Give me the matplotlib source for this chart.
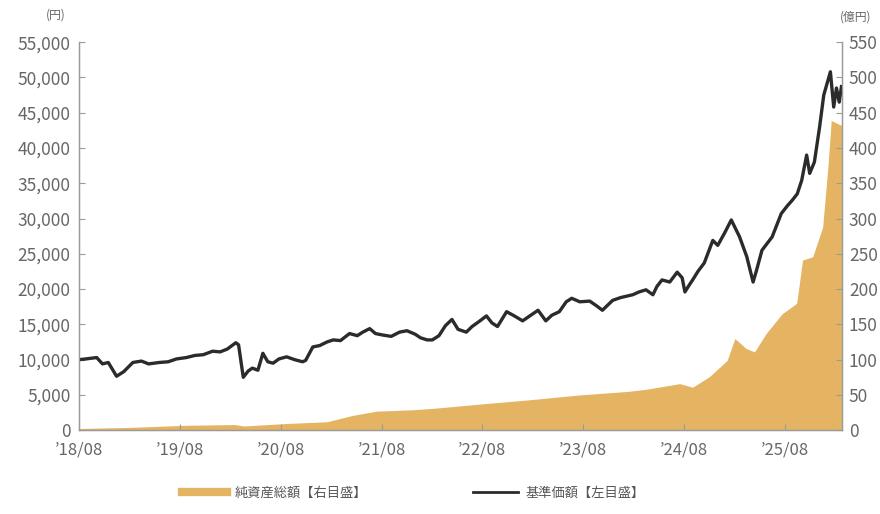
import matplotlib
matplotlib.use('Agg')
import matplotlib.pyplot as plt
from matplotlib.lines import Line2D
import pandas as pd

plt.rcParams['font.family'] = ['Noto Sans CJK JP', 'DejaVu Sans']

# 基準価額（円）
price_dates = ['2018-08-01', '2018-08-25', '2018-10-04', '2018-10-25', '2018-11-15', '2018-12-15',
               '2019-01-10', '2019-02-12', '2019-03-15', '2019-04-10', '2019-05-19', '2019-06-20',
               '2019-07-20', '2019-08-25', '2019-09-25', '2019-10-25', '2019-11-28', '2019-12-25',
               '2020-01-20', '2020-02-20', '2020-03-01', '2020-03-18', '2020-04-05', '2020-04-20',
               '2020-05-10', '2020-05-28', '2020-06-15', '2020-07-04', '2020-07-25', '2020-08-22',
               '2020-09-20', '2020-10-19', '2020-10-30', '2020-11-25', '2020-12-20', '2021-01-15',
               '2021-02-07', '2021-03-05', '2021-04-07', '2021-05-05', '2021-05-25', '2021-06-19',
               '2021-07-10', '2021-08-04', '2021-09-05', '2021-10-05', '2021-11-01', '2021-12-01',
               '2021-12-20', '2022-01-13', '2022-02-01', '2022-02-25', '2022-03-20', '2022-04-13',
               '2022-05-05', '2022-06-04', '2022-06-25', '2022-07-20', '2022-08-16', '2022-09-05',
               '2022-09-25', '2022-10-28', '2022-11-25', '2022-12-25', '2023-01-20', '2023-02-19',
               '2023-03-19', '2023-04-10', '2023-05-07', '2023-06-01', '2023-06-21', '2023-07-20',
               '2023-08-25', '2023-09-20', '2023-10-10', '2023-11-16', '2023-12-15', '2024-01-28',
               '2024-02-20', '2024-03-16', '2024-04-10', '2024-04-25', '2024-05-13', '2024-06-10',
               '2024-07-07', '2024-07-25', '2024-08-04', '2024-08-20', '2024-09-01', '2024-09-20',
               '2024-10-13', '2024-11-13', '2024-12-01', '2024-12-25', '2025-01-19', '2025-02-18',
               '2025-03-16', '2025-04-08', '2025-04-20', '2025-05-10', '2025-06-16', '2025-07-19',
               '2025-08-10', '2025-08-28', '2025-09-15', '2025-10-01', '2025-10-19', '2025-10-30',
               '2025-11-16', '2025-12-05', '2025-12-20', '2026-01-13', '2026-01-25', '2026-02-04',
               '2026-02-14', '2026-02-22']
price_vals = [10000, 10100, 10300, 9400, 9600, 7650,
              8300, 9600, 9800, 9400, 9600, 9700,
              10100, 10300, 10600, 10700, 11200, 11100,
              11500, 12400, 12100, 7500, 8400, 8800,
              8500, 10900, 9700, 9500, 10100, 10400,
              10000, 9700, 9900, 11800, 12000, 12500,
              12800, 12700, 13700, 13400, 13900, 14400,
              13700, 13500, 13300, 13900, 14100, 13600,
              13100, 12800, 12800, 13400, 14800, 15700,
              14300, 13900, 14700, 15400, 16200, 15200,
              14700, 16800, 16200, 15500, 16200, 17000,
              15500, 16300, 16800, 18200, 18700, 18200,
              18300, 17600, 17000, 18400, 18800, 19200,
              19600, 19900, 19200, 20400, 21300, 21000,
              22400, 21600, 19600, 20600, 21300, 22500,
              23700, 26900, 26200, 27900, 29800, 27400,
              24600, 21000, 22600, 25500, 27400, 30700,
              31800, 32600, 33500, 35400, 39000, 36400,
              38000, 43000, 47500, 50800, 45800, 48500,
              46500, 48700]

# 純資産総額（億円）
nav_dates = ['2018-08-01', '2019-02-01', '2019-08-25', '2020-02-15', '2020-03-20', '2020-08-22',
             '2021-01-15', '2021-04-18', '2021-07-13', '2021-11-22', '2022-02-04', '2022-07-22',
             '2023-01-15', '2023-07-19', '2024-01-10', '2024-03-16', '2024-07-16', '2024-09-01',
             '2024-11-01', '2025-01-04', '2025-02-01', '2025-03-13', '2025-04-13', '2025-05-25',
             '2025-07-22', '2025-09-13', '2025-10-04', '2025-11-10', '2025-12-16', '2026-01-04',
             '2026-01-16', '2026-02-22']
nav_vals = [2.4, 4, 7, 8, 6, 9.5,
            12, 21, 27, 29, 31, 37,
            43, 50, 55, 58, 66, 61,
            76, 99, 130, 116, 111, 137,
            165, 180, 241, 246, 288, 373,
            439, 432]

left_ticks = list(range(0, 55001, 5000))
right_ticks = list(range(0, 551, 50))
xtick_dates = ['2018-08-01', '2019-08-01', '2020-08-01', '2021-08-01',
               '2022-08-01', '2023-08-01', '2024-08-01', '2025-08-01']
xtick_labels = ['’18/08', '’19/08', '’20/08', '’21/08',
                '’22/08', '’23/08', '’24/08', '’25/08']

px = pd.to_datetime(price_dates)
nx = pd.to_datetime(nav_dates)

fig = plt.figure(figsize=(8.8, 5.14), dpi=100)
ax = fig.add_axes([0.0898, 0.163, 0.867, 0.755])
ax2 = ax.twinx()

ax2.fill_between(nx, 0, nav_vals, color='#E4B463', lw=0)
ax.plot(px, price_vals, color='#2b2b2b', lw=2.4)

ax.set_zorder(ax2.get_zorder() + 1)
ax.patch.set_visible(False)

ax.set_xlim(pd.Timestamp('2018-08-01'), pd.Timestamp('2026-02-24'))
ax.set_ylim(0, 55000)
ax2.set_ylim(0, 550)

ax.set_yticks(left_ticks)
ax.set_yticklabels([f'{v:,}' for v in left_ticks])
ax2.set_yticks(right_ticks)
ax2.set_yticklabels([str(v) for v in right_ticks])
ax.set_xticks(pd.to_datetime(xtick_dates))
ax.set_xticklabels(xtick_labels)

grey = '#666666'
for a in (ax, ax2):
    a.spines['top'].set_visible(False)
    for s in ('left', 'right', 'bottom'):
        a.spines[s].set_color('#9a9a9a')
        a.spines[s].set_linewidth(0.9)
    a.tick_params(direction='in', length=4, width=0.8, color='#9a9a9a',
                  labelcolor=grey, labelsize=12.5)
ax.tick_params(axis='x', pad=8, labelsize=12)
ax.tick_params(axis='y', pad=6)
ax2.tick_params(axis='y', pad=5)

fig.text(0.063, 0.97, '(円)', fontsize=8.5, color=grey, ha='center', va='center')
fig.text(0.972, 0.967, '(億円)', fontsize=8.5, color=grey, ha='center', va='center')

handles = [Line2D([0], [0], color='#E4B463', lw=6),
           Line2D([0], [0], color='#2b2b2b', lw=2)]
labels = ['純資産総額【右目盛】', '基準価額【左目盛】']
fig.legend(handles, labels, loc='center', bbox_to_anchor=(0.47, 0.04), ncol=2,
           frameon=False, fontsize=9.5, handlelength=3.4, columnspacing=8,
           handletextpad=0.6, labelcolor='#555555')

fig.savefig('out.png', dpi=100)
